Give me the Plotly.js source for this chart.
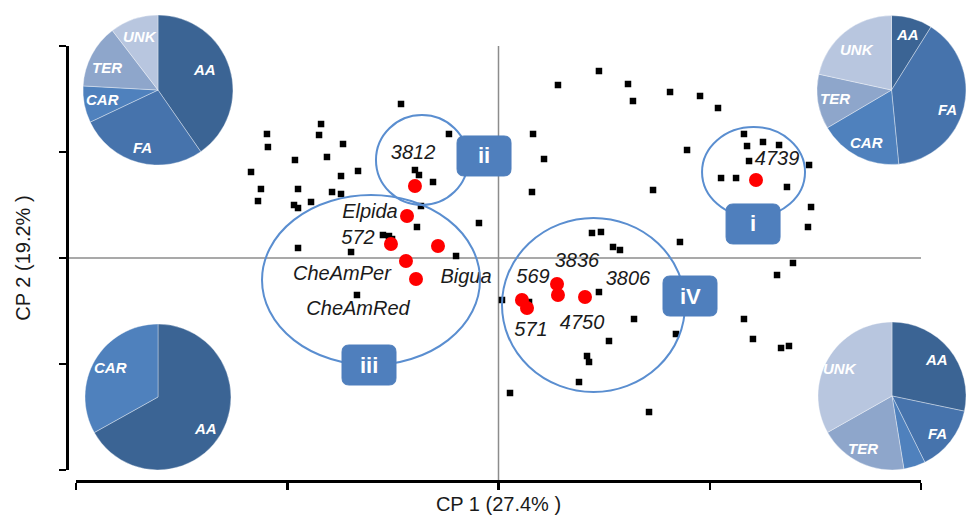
<!DOCTYPE html>
<html>
<head>
<meta charset="utf-8">
<script src="https://cdn.plot.ly/plotly-3.0.1.min.js"></script>
<style>
html,body{margin:0;padding:0;background:#fff;}
#chart{width:966px;height:519px;}
</style>
</head>
<body>
<div id="chart"></div>
<script>
// ---- Data (PCA scores) ----
const blackX = [-0.923,-1.680,-1.699,-2.192,-2.183,-1.472,-1.927,-1.624,-1.330,-1.491,-2.343,-2.249,-1.898,-1.576,-1.491,-2.277,-1.775,-1.936,-1.898,-0.469,-0.791,-0.753,-0.620,-0.734,-0.772,-0.185,-1.094,-1.037,-1.008,-1.898,-1.396,-0.402,-1.340,0.033,0.109,
  0.951,0.563,1.226,1.273,1.624,1.908,2.078,0.327,0.431,0.317,1.785,1.463,2.324,2.353,2.504,2.656,2.372,2.940,2.107,2.249,2.731,2.959,2.930,0.885,0.970,1.084,1.150,1.718,2.788,2.637,0.951,0.289,1.283,2.324,1.680,2.409,2.675,2.750,1.046,0.838,0.857,0.762,1.425];
const blackY = [2.906,2.528,2.321,2.340,2.094,2.151,1.849,1.906,1.642,1.547,1.623,1.302,1.302,1.245,1.208,1.075,1.057,1.000,0.943,2.340,1.660,1.566,1.434,0.981,0.585,0.660,0.434,0.415,0.358,0.189,0.113,0.038,-0.698,-0.792,-2.547,
  3.528,3.264,3.283,2.962,3.132,3.057,2.830,2.340,1.868,1.245,2.038,1.283,2.340,2.113,2.189,2.132,1.830,1.755,1.509,1.509,1.340,0.962,0.585,0.472,0.491,0.208,0.151,0.302,-0.094,-0.321,-0.642,-0.830,-1.151,-1.151,-1.434,-1.528,-1.698,-1.660,-1.566,-1.849,-1.962,-2.340,-2.906];

const redX = [-0.791,-0.866,-1.018,-0.573,-0.876,-0.781,2.438,0.222,0.270,0.554,0.563,0.819];
const redY = [1.358,0.792,0.264,0.226,-0.057,-0.396,1.472,-0.792,-0.943,-0.491,-0.698,-0.736];

const labelText = ["3812","Elpida","572","CheAmPer","Bigua","CheAmRed","569","3836","3806","571","4750","4739"];
const labelX = [-0.809,-1.217,-1.330,-1.482,-0.308,-1.330,0.327,0.743,1.226,0.308,0.791,2.637];
const labelY = [1.962,0.849,0.358,-0.321,-0.377,-0.981,-0.377,-0.075,-0.415,-1.377,-1.245,1.849];

const groupNames = ["ii","iii","iV","i"];
const groupBoxX = [-0.137,-1.226,1.813,2.410];
const groupBoxY = [1.925,-2.019,-0.717,0.642];
// ellipse extents [x0,x1,y0,y1]
const groupEllipseX0 = [-1.160,-2.239,0.033,1.927];
const groupEllipseX1 = [-0.289,-0.175,1.766,2.902];
const groupEllipseY0 = [1.000,-2.019,-2.528,0.774];
const groupEllipseY1 = [2.698,1.189,0.755,2.472];

const pieLabels = ["AA","FA","CAR","TER","UNK"];
const pieTopLeft = [40.3,27.6,7.9,13.7,10.4];
const pieTopRight = [8.9,39.6,18.1,11.9,21.6];
const pieBottomLeftLabels = ["AA","CAR"];
const pieBottomLeft = [66.9,33.1];
const pieBottomRight = [28.3,14.4,4.75,19.4,33.2];

const xTicks = [-4,-2,0,2,4];
const yTicks = [-4,-2,0,2,4];

// ---- Styles ----
const sliceColors = {AA:"#3b6494",FA:"#4673ac",CAR:"#4f81bd",TER:"#8ea6cb",UNK:"#b8c6df"};
const pieFont = {family:"Liberation Sans, Arial, sans-serif", size:15, color:"#ffffff", weight:"bold", style:"italic"};
function pieTrace(labels, values, dx, dy){
  return {
    type:"pie", labels:labels, values:values, sort:false, direction:"clockwise", rotation:0,
    marker:{colors:labels.map(l=>sliceColors[l]), line:{color:"rgba(255,255,255,0.45)", width:0.8}},
    textinfo:"none", domain:{x:dx,y:dy}, showlegend:false, hoverinfo:"skip"
  };
}

const traces = [
  {type:"scatter", mode:"markers", x:blackX, y:blackY,
   marker:{symbol:"square", size:6.5, color:"#000000"}, hoverinfo:"skip", showlegend:false},
  {type:"scatter", mode:"markers", x:redX, y:redY,
   marker:{symbol:"circle", size:14, color:"#ff0000"}, hoverinfo:"skip", showlegend:false},
  {type:"scatter", mode:"text", x:labelX, y:labelY, text:labelText, textposition:"middle center",
   textfont:{family:"Liberation Sans, Arial, sans-serif", size:20, color:"#1a1a1a", style:"italic"},
   hoverinfo:"skip", showlegend:false},
  pieTrace(pieLabels, pieTopLeft, [0.0859,0.2412], [0.682,0.971]),
  pieTrace(pieLabels, pieTopRight, [0.8458,1.0], [0.682,0.971]),
  pieTrace(pieBottomLeftLabels, pieBottomLeft, [0.0880,0.2391], [0.0944,0.3757]),
  pieTrace(pieLabels, pieBottomRight, [0.8468,1.0], [0.0944,0.3796])
];

const shapes = [
  {type:"line", xref:"x", yref:"paper", x0:0, x1:0, y0:38/519, y1:(519-46)/519, line:{color:"#8c8c8c", width:1.5}, layer:"below"},
  {type:"line", xref:"paper", yref:"y", x0:67/966, x1:921/966, y0:0, y1:0, line:{color:"#8c8c8c", width:1.5}, layer:"below"}
];
const annotations = [];
const boxPath = "M -20,-20 L 20,-20 Q 27,-20 27,-13 L 27,13 Q 27,20 20,20 L -20,20 Q -27,20 -27,13 L -27,-13 Q -27,-20 -20,-20 Z";
for (let i=0;i<groupNames.length;i++){
  shapes.push({type:"circle", xref:"x", yref:"y", x0:groupEllipseX0[i], x1:groupEllipseX1[i],
    y0:groupEllipseY0[i], y1:groupEllipseY1[i], line:{color:"#5a8ed0", width:2}, fillcolor:"rgba(0,0,0,0)"});
}
for (let i=0;i<groupNames.length;i++){
  shapes.push({type:"path", xref:"x", yref:"y", xsizemode:"pixel", ysizemode:"pixel",
    xanchor:groupBoxX[i], yanchor:groupBoxY[i], path:boxPath,
    fillcolor:"#4f7fbd", line:{color:"#4f7fbd", width:1}});
  annotations.push({x:groupBoxX[i], y:groupBoxY[i], xref:"x", yref:"y", text:groupNames[i], showarrow:false,
    xanchor:"center", yanchor:"middle",
    font:{family:"Liberation Sans, Arial, sans-serif", size:22, color:"#ffffff", weight:"bold"}});
}

// pie slice labels placed on paper (pixel positions of the label centres)
const pieLabelText = ["AA","FA","CAR","TER","UNK", "AA","FA","CAR","TER","UNK", "CAR","AA", "AA","FA","TER","UNK"];
const pieLabelPx = [204,142,102,107,140, 907,947,866,835,857, 110,205, 936,937,863,840];
const pieLabelPy = [69,148,100,68,37, 35,110,142,99,50, 367,428, 359,433,448,368];
for (let i=0;i<pieLabelText.length;i++){
  annotations.push({xref:"paper", yref:"paper", x:pieLabelPx[i]/966, y:1-pieLabelPy[i]/519,
    xanchor:"center", yanchor:"middle", text:pieLabelText[i], showarrow:false, font:pieFont});
}

const axisCommon = {showgrid:false, zeroline:false, showticklabels:false, showline:true,
  linecolor:"#000000", linewidth:2.5, ticks:"outside", ticklen:7, tickwidth:2.5, tickcolor:"#000000",
  tickmode:"array", fixedrange:true, automargin:false};

const layout = {
  width:966, height:519,
  margin:{l:0,r:0,t:0,b:0},
  paper_bgcolor:"#ffffff", plot_bgcolor:"rgba(0,0,0,0)",
  showlegend:false,
  xaxis:Object.assign({}, axisCommon, {range:[-4,4], tickvals:xTicks, domain:[76/966, 921/966],
    anchor:"free", position:38/519,
    title:{text:"CP 1 (27.4% )", standoff:8, font:{family:"Liberation Sans, Arial, sans-serif", size:20, color:"#1a1a1a"}}}),
  yaxis:Object.assign({}, axisCommon, {range:[-4,4], tickvals:yTicks, domain:[(519-470)/519, (519-46)/519],
    anchor:"free", position:67/966,
    title:{text:"CP 2 (19.2% )", standoff:22, font:{family:"Liberation Sans, Arial, sans-serif", size:20, color:"#1a1a1a"}}}),
  shapes:shapes,
  annotations:annotations,
  hovermode:false
};

Plotly.newPlot("chart", traces, layout, {displayModeBar:false, staticPlot:true});
</script>
</body>
</html>
